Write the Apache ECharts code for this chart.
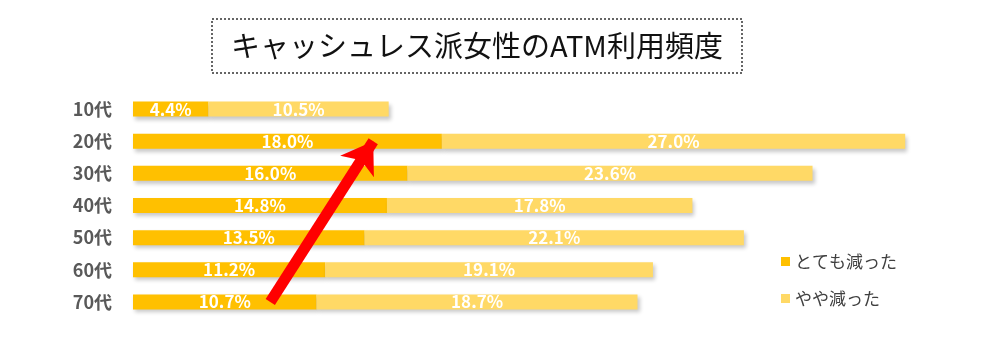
<!DOCTYPE html>
<html><head><meta charset="utf-8">
<script src="https://cdn.jsdelivr.net/npm/echarts@6/dist/echarts.min.js"></script>
<style>html,body{margin:0;padding:0;background:#fff}#c{width:1000px;height:360px}</style>
</head><body><div id="c"></div>
<script>
const categories = ['10代','20代','30代','40代','50代','60代','70代'];
const muchLess = [4.4, 18.0, 16.0, 14.8, 13.5, 11.2, 10.7];
const slightlyLess = [10.5, 27.0, 23.6, 17.8, 22.1, 19.1, 18.7];
const seriesNames = ['とても減った', 'やや減った'];
const arrowFrom = [8.0, '70代'];
const arrowTo = [14.0, '20代'];
const titleText = 'キャッシュレス派女性のATM利用頻度';

const FONT = '"Noto Sans CJK JP", "Noto Sans", sans-serif';
const chart = echarts.init(document.getElementById('c'));
const barStyle = (color) => ({
  color: color,
  shadowBlur: 4, shadowColor: 'rgba(0,0,0,0.22)', shadowOffsetX: 2, shadowOffsetY: 3
});
const label = {
  show: true, position: 'inside', color: '#fff', fontWeight: 'bold', fontSize: 17,
  fontFamily: FONT, formatter: p => p.value.toFixed(1) + '%'
};
chart.setOption({
  animation: false,
  backgroundColor: '#fff',
  graphic: [
    { type: 'rect', shape: { x: 212, y: 19, width: 530, height: 54 },
      style: { fill: '#fff', stroke: '#333', lineWidth: 1.5, lineDash: [2, 2] } },
    { type: 'text', x: 477, y: 46,
      style: { text: titleText, fontSize: 29, fontFamily: FONT, fill: '#111', align: 'center', verticalAlign: 'middle' } }
  ],
  legend: {
    orient: 'vertical', left: 776, top: 248, itemWidth: 9, itemHeight: 9, itemGap: 20,
    icon: 'rect',
    textStyle: { fontSize: 17, color: '#404040', fontFamily: FONT },
    data: seriesNames
  },
  grid: { left: 133, right: 9, top: 93, bottom: 42 },
  xAxis: { type: 'value', min: 0, max: 50, show: false },
  yAxis: {
    type: 'category', data: categories, inverse: true,
    axisLine: { show: false }, axisTick: { show: false },
    axisLabel: { color: '#595959', fontSize: 18, fontWeight: 'bold', fontFamily: FONT, margin: 21 }
  },
  series: [
    { name: seriesNames[0], type: 'bar', stack: 's', data: muchLess, barWidth: 15,
      itemStyle: barStyle('#FFC000'), label: label },
    { name: seriesNames[1], type: 'bar', stack: 's', data: slightlyLess, barWidth: 15,
      itemStyle: barStyle('#FFD966'), label: label,
      markLine: {
        silent: true, symbol: ['none', 'arrow'], symbolSize: 30,
        label: { show: false },
        lineStyle: { color: '#FF0000', width: 11, type: 'solid' },
        data: [[{ coord: arrowFrom }, { coord: arrowTo }]]
      }
    }
  ]
});
</script></body></html>
